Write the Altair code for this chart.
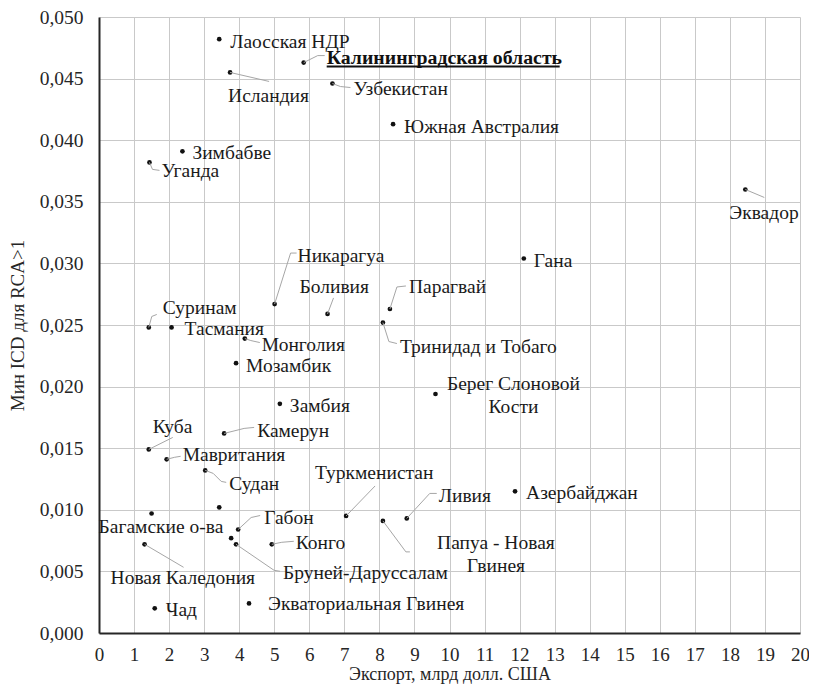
import altair as alt
import pandas as pd

# ---------------- data ----------------
countries = [
    "Лаосская НДР", "Калининградская область", "Исландия", "Узбекистан",
    "Южная Австралия", "Зимбабве", "Уганда", "Эквадор", "Никарагуа",
    "Боливия", "Парагвай", "Тринидад и Тобаго", "Гана", "Суринам",
    "Тасмания", "Монголия", "Мозамбик", "Замбия", "Камерун", "Куба",
    "Берег Слоновой Кости", "Мавритания", "Судан", "Багамские о-ва", "",
    "Габон", "", "Бруней-Даруссалам", "Конго", "Новая Каледония", "Чад",
    "Экваториальная Гвинея", "Туркменистан", "Папуа - Новая Гвинея",
    "Ливия", "Азербайджан",
]
export_bln = [
    3.43, 5.84, 3.74, 6.66, 8.39, 2.38, 1.44, 18.44, 5.01, 6.52, 8.30, 8.10,
    12.12, 1.42, 2.07, 4.16, 3.91, 5.16, 3.57, 1.42, 9.60, 1.93, 3.03, 1.50,
    3.43, 3.97, 3.77, 3.91, 4.93, 1.30, 1.59, 4.28, 7.05, 8.10, 8.78, 11.87,
]
min_icd = [
    0.0482, 0.0463, 0.0455, 0.0446, 0.0413, 0.0391, 0.0382, 0.0360, 0.0267,
    0.0259, 0.0263, 0.0252, 0.0304, 0.0248, 0.0248, 0.0239, 0.0219, 0.0186,
    0.0162, 0.0149, 0.0194, 0.0141, 0.0132, 0.0097, 0.0102, 0.0084, 0.0077,
    0.0072, 0.0072, 0.0072, 0.0020, 0.0024, 0.0095, 0.0091, 0.0093, 0.0115,
]
x_ticks = list(range(0, 21))
y_ticks = [round(i * 0.005, 3) for i in range(11)]

# ---------------- label layout (pixel offsets from each dot) ----------------
LAYOUT = [
    dict(lines=[("Лаосская НДР", 11, 3)]),
    dict(lines=[("Калининградская область", 23, -5)], bold=True,
         leader=[(0, 0), (14, -7), (21, -7)]),
    dict(lines=[("Исландия", -2, 24)], leader=[(0, 0), (39, 9)]),
    dict(lines=[("Узбекистан", 21, 5)], leader=[(0, 0), (8, 3), (18, 4)]),
    dict(lines=[("Южная Австралия", 11, 3)]),
    dict(lines=[("Зимбабве", 10, 2)]),
    dict(lines=[("Уганда", 12, 9)], leader=[(0, 0), (3, 7), (10, 8)]),
    dict(lines=[("Эквадор", -16, 24)], leader=[(0, 0), (19, 8)]),
    dict(lines=[("Никарагуа", 23, -48)], leader=[(0, 0), (16, -51), (22, -51)]),
    dict(lines=[("Боливия", -28, -27)], leader=[(0, 0), (6, -16)]),
    dict(lines=[("Парагвай", 19, -22)], leader=[(0, 0), (7, -22), (16, -23)]),
    dict(lines=[("Тринидад и Тобаго", 17, 24)], leader=[(0, 0), (6, 19), (14, 21)]),
    dict(lines=[("Гана", 10, 3)]),
    dict(lines=[("Суринам", 14, -19)], leader=[(0, 0), (3, -11), (8, -13)]),
    dict(lines=[("Тасмания", 13, 2)]),
    dict(lines=[("Монголия", 17, 6)], leader=[(0, 0), (6, 2), (15, 4)]),
    dict(lines=[("Мозамбик", 10, 3)]),
    dict(lines=[("Замбия", 10, 2)]),
    dict(lines=[("Камерун", 33, -2)], leader=[(0, 0), (20, -5), (30, -6)]),
    dict(lines=[("Куба", 4, -22)], leader=[(0, 0), (24, -12)]),
    dict(lines=[("Берег Слоновой", 78, -10), ("Кости", 78, 13)], align="center"),
    dict(lines=[("Мавритания", 16, -4)], leader=[(0, 0), (8, -2), (14, -3)]),
    dict(lines=[("Судан", 24, 14)], leader=[(0, 0), (8, 3), (16, 11), (21, 12)]),
    dict(lines=[("Багамские о-ва", -53, 14)]),
    dict(lines=[]),
    dict(lines=[("Габон", 26, -12)], leader=[(0, 0), (13, -12), (22, -14)]),
    dict(lines=[]),
    dict(lines=[("Бруней-Даруссалам", 47, 29)], leader=[(0, 0), (38, 26), (44, 27)]),
    dict(lines=[("Конго", 24, -1)], leader=[(0, 0), (10, -2), (22, -3)]),
    dict(lines=[("Новая Каледония", -34, 34)], leader=[(0, 0), (39, 23)]),
    dict(lines=[("Чад", 11, 2)]),
    dict(lines=[("Экваториальная Гвинея", 19, 1)]),
    dict(lines=[("Туркменистан", -31, -43)], leader=[(0, 0), (29, -30)]),
    dict(lines=[("Папуа - Новая", 113, 22), ("Гвинея", 113, 45)], align="center",
         leader=[(0, 0), (23, 31), (27, 31)]),
    dict(lines=[("Ливия", 32, -22)], leader=[(0, 0), (23, -25), (30, -25)]),
    dict(lines=[("Азербайджан", 11, 2)]),
]

W, H = 701, 616
XMAX, YMAX = 20, 0.05
FONT = "Liberation Serif"
FS = 19.5


def ox(v, d):
    return v + d * XMAX / W


def oy(v, d):
    return v - d * YMAX / H


points = pd.DataFrame({"x": export_bln, "y": min_icd, "name": countries})

label_rows, leader_rows, underline_rows = [], [], []
for i, (x0, y0, lay) in enumerate(zip(export_bln, min_icd, LAYOUT)):
    for text, dx, dy in lay["lines"]:
        label_rows.append(dict(x=ox(x0, dx), y=oy(y0, dy), text=text,
                               kind=("bold" if lay.get("bold") else lay.get("align", "left"))))
    for k, (dx, dy) in enumerate(lay.get("leader", [])):
        leader_rows.append(dict(id=i, order=k, x=ox(x0, dx), y=oy(y0, dy)))
    if lay.get("bold"):
        underline_rows.append(dict(x=ox(x0, 23), x2=ox(x0, 256), y=oy(y0, 4)))

labels = pd.DataFrame(label_rows)
leaders = pd.DataFrame(leader_rows)
underline = pd.DataFrame(underline_rows)

xscale = alt.Scale(domain=[0, XMAX], nice=False, zero=False)
yscale = alt.Scale(domain=[0, YMAX], nice=False, zero=False)

xaxis = alt.Axis(values=x_ticks, grid=True, gridColor="#c9c9c9", gridWidth=1,
                 domainColor="#262626", domainWidth=2, ticks=False,
                 labelFont=FONT, labelFontSize=19, labelColor="#262626",
                 labelPadding=12, labelFlush=False, labelOverlap=False,
                 title="Экспорт, млрд долл. США", titleFont=FONT, titleFontSize=18,
                 titleFontWeight="normal", titleColor="#262626", titlePadding=1)
yaxis = alt.Axis(values=y_ticks, grid=True, gridColor="#c9c9c9", gridWidth=1,
                 domainColor="#262626", domainWidth=2, ticks=False,
                 labelFont=FONT, labelFontSize=19.5, labelColor="#262626",
                 labelPadding=16, labelFlush=False, labelOverlap=False,
                 labelExpr="replace(format(datum.value, '.3f'), '.', ',')",
                 title="Мин ICD для RCA>1", titleFont=FONT, titleFontSize=19,
                 titleFontWeight="normal", titleColor="#262626", titlePadding=12)

X = alt.X("x:Q", scale=xscale, axis=xaxis)
Y = alt.Y("y:Q", scale=yscale, axis=yaxis)

dots = alt.Chart(points).mark_circle(size=22, color="#111111", opacity=1).encode(x=X, y=Y)

lead = alt.Chart(leaders).mark_line(color="#a6a6a6", strokeWidth=1).encode(
    x=X, y=Y, detail="id:N", order="order:Q")

txt_left = alt.Chart(labels).transform_filter("datum.kind == 'left'").mark_text(
    align="left", baseline="middle", font=FONT, fontSize=FS, color="#1a1a1a"
).encode(x=X, y=Y, text="text:N")

txt_center = alt.Chart(labels).transform_filter("datum.kind == 'center'").mark_text(
    align="center", baseline="middle", font=FONT, fontSize=FS, color="#1a1a1a"
).encode(x=X, y=Y, text="text:N")

txt_bold = alt.Chart(labels).transform_filter("datum.kind == 'bold'").mark_text(
    align="left", baseline="middle", font=FONT, fontSize=19.8, fontWeight="bold",
    color="#111111"
).encode(x=X, y=Y, text="text:N")

uline = alt.Chart(underline).mark_rule(color="#111111", strokeWidth=2).encode(
    x=X, x2="x2:Q", y=Y)

chart = alt.layer(dots, lead, txt_left, txt_center, txt_bold, uline).properties(
    width=W, height=H,
    padding={"left": 91, "top": 9, "right": 9, "bottom": 52},
    autosize=alt.AutoSizeParams(type="none"),
    background="white",
).configure_view(stroke=None).configure_axis(labelOverlap=False)

chart.save("out.html", embed_options={"renderer": "svg", "actions": False})
